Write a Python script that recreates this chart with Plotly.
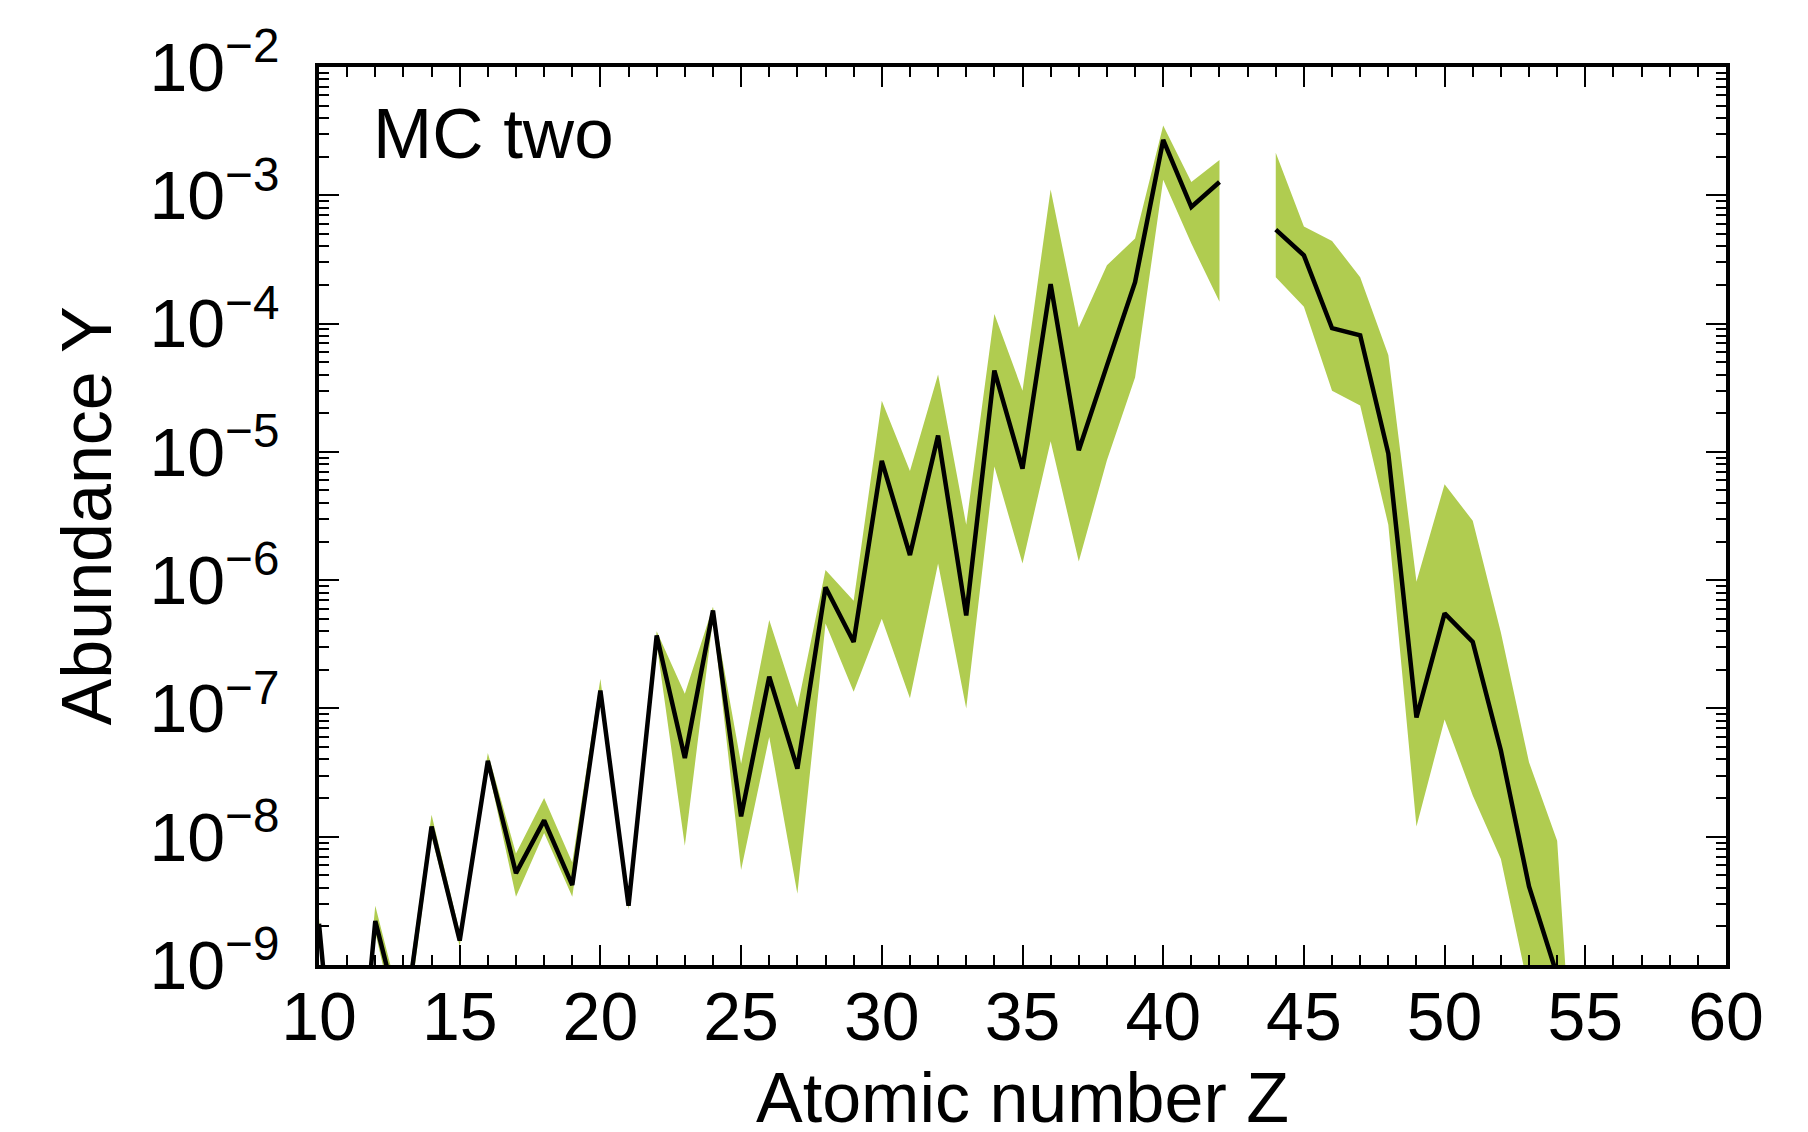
import plotly.graph_objects as go

# Atomic number Z of each element
Z = list(range(10, 56))

# Median abundance (None = no value for that element)
abundance = [
    2.1e-9, 1e-11, 2.2e-9, 3e-10, 1.2e-8, 1.55e-9, 3.9e-8, 5.2e-9, 1.34e-8, 4.2e-9,
    1.38e-7, 2.9e-9, 3.7e-7, 4.1e-8, 5.8e-7, 1.44e-8, 1.77e-7, 3.4e-8, 8.8e-7, 3.3e-7,
    8.5e-6, 1.57e-6, 1.34e-5, 5.3e-7, 4.3e-5, 7.4e-6, 2.03e-4, 1.03e-5, 4.7e-5, 2.1e-4,
    2.7e-3, 8.1e-4, 1.27e-3, None, 5.4e-4, 3.4e-4, 9.2e-5, 8.1e-5, 9.7e-6, 8.5e-8,
    5.5e-7, 3.3e-7, 4.7e-8, 4.1e-9, 8.3e-10, 1e-12,
]

# Upper edge of the Monte Carlo band
band_upper = [
    2.3e-9, 1.5e-11, 2.9e-9, 4e-10, 1.48e-8, 1.8e-9, 4.5e-8, 7.4e-9, 2.0e-8, 6.3e-9,
    1.7e-7, 3.2e-9, 4.0e-7, 1.3e-7, 6.2e-7, 3.7e-8, 4.9e-7, 1.02e-7, 1.2e-6, 6.9e-7,
    2.5e-5, 7.1e-6, 4.0e-5, 2.7e-6, 1.19e-4, 3.0e-5, 1.11e-3, 9.3e-5, 2.85e-4, 4.6e-4,
    3.5e-3, 1.27e-3, 1.88e-3, None, 2.15e-3, 5.7e-4, 4.4e-4, 2.3e-4, 5.7e-5, 9.7e-7,
    5.6e-6, 2.9e-6, 3.9e-7, 3.8e-8, 9.3e-9, 4e-12,
]

# Lower edge of the Monte Carlo band
band_lower = [
    1.9e-9, 5e-12, 1.8e-9, 2e-10, 1.0e-8, 1.4e-9, 3.5e-8, 3.4e-9, 1.07e-8, 3.4e-9,
    1.2e-7, 2.7e-9, 3.2e-7, 8.5e-9, 5.0e-7, 5.5e-9, 6.0e-8, 3.6e-9, 4.6e-7, 1.35e-7,
    5.0e-7, 1.2e-7, 1.35e-6, 1.0e-7, 7.7e-6, 1.35e-6, 1.21e-5, 1.4e-6, 8.6e-6, 3.8e-5,
    1.32e-3, 4.2e-4, 1.48e-4, None, 2.3e-4, 1.35e-4, 3.0e-5, 2.3e-5, 2.7e-6, 1.2e-8,
    8.2e-8, 2.1e-8, 6.7e-9, 6.2e-10, 1e-10, 1e-13,
]

y_tick_values = [1e-9, 1e-8, 1e-7, 1e-6, 1e-5, 1e-4, 1e-3, 1e-2]
y_tick_labels = ["10<sup>−9</sup>", "10<sup>−8</sup>", "10<sup>−7</sup>", "10<sup>−6</sup>",
                 "10<sup>−5</sup>", "10<sup>−4</sup>", "10<sup>−3</sup>", "10<sup>−2</sup>"]
x_tick_values = [10, 15, 20, 25, 30, 35, 40, 45, 50, 55, 60]

BAND = "rgb(176,204,80)"
FONT = "Liberation Sans, Arial, sans-serif"


def segments(xs, *cols):
    """Split parallel columns into runs without missing values."""
    runs, cur = [], []
    for i, x in enumerate(xs):
        if any(c[i] is None for c in cols):
            if cur:
                runs.append(cur)
            cur = []
        else:
            cur.append(i)
    if cur:
        runs.append(cur)
    return runs


fig = go.Figure()

# shaded band, one closed polygon per contiguous run
for run in segments(Z, band_upper, band_lower):
    xs = [Z[i] for i in run]
    up = [band_upper[i] for i in run]
    lo = [band_lower[i] for i in run]
    fig.add_trace(go.Scatter(
        x=xs + xs[::-1], y=up + lo[::-1],
        mode="lines", fill="toself", fillcolor=BAND,
        line=dict(width=0, color=BAND), hoverinfo="skip", showlegend=False,
    ))

# median curve
fig.add_trace(go.Scatter(
    x=Z, y=abundance, mode="lines",
    line=dict(color="black", width=4.5), connectgaps=False, showlegend=False,
))

axis_common = dict(
    showline=True, linecolor="black", linewidth=4, mirror="ticks",
    ticks="inside", ticklen=20, tickwidth=2, tickcolor="black",
    showgrid=False, zeroline=False, automargin=False,
    tickfont=dict(family=FONT, size=68, color="black"),
)

fig.update_xaxes(
    range=[10, 60], tickmode="array", tickvals=x_tick_values,
    minor=dict(ticks="inside", ticklen=10, tickwidth=2, tickcolor="black", dtick=1),
    ticklabelstandoff=-11,
    **axis_common,
)
fig.update_yaxes(
    type="log", range=[-9, -2], tickmode="array",
    tickvals=y_tick_values, ticktext=y_tick_labels,
    minor=dict(ticks="inside", ticklen=10, tickwidth=2, tickcolor="black", dtick="D1"),
    ticklabelstandoff=22,
    **axis_common,
)

title_font = dict(family=FONT, size=70, color="black")
fig.add_annotation(
    text="Atomic number Z", xref="paper", yref="paper", x=0.5, y=-0.148,
    xanchor="center", yanchor="middle", showarrow=False, font=title_font,
)
fig.add_annotation(
    text="Abundance Y", xref="paper", yref="paper", x=-0.1646, y=0.5,
    xanchor="center", yanchor="middle", textangle=-90, showarrow=False, font=title_font,
)
fig.add_annotation(
    text="MC two", xref="paper", yref="paper", x=0.037, y=0.9265,
    xanchor="left", yanchor="middle", showarrow=False,
    font=dict(family=FONT, size=71, color="black"),
)

fig.update_layout(
    width=1808, height=1132, autosize=False,
    margin=dict(l=319, r=82, t=67, b=167),
    paper_bgcolor="white", plot_bgcolor="white",
)

fig.write_html("out.html")
